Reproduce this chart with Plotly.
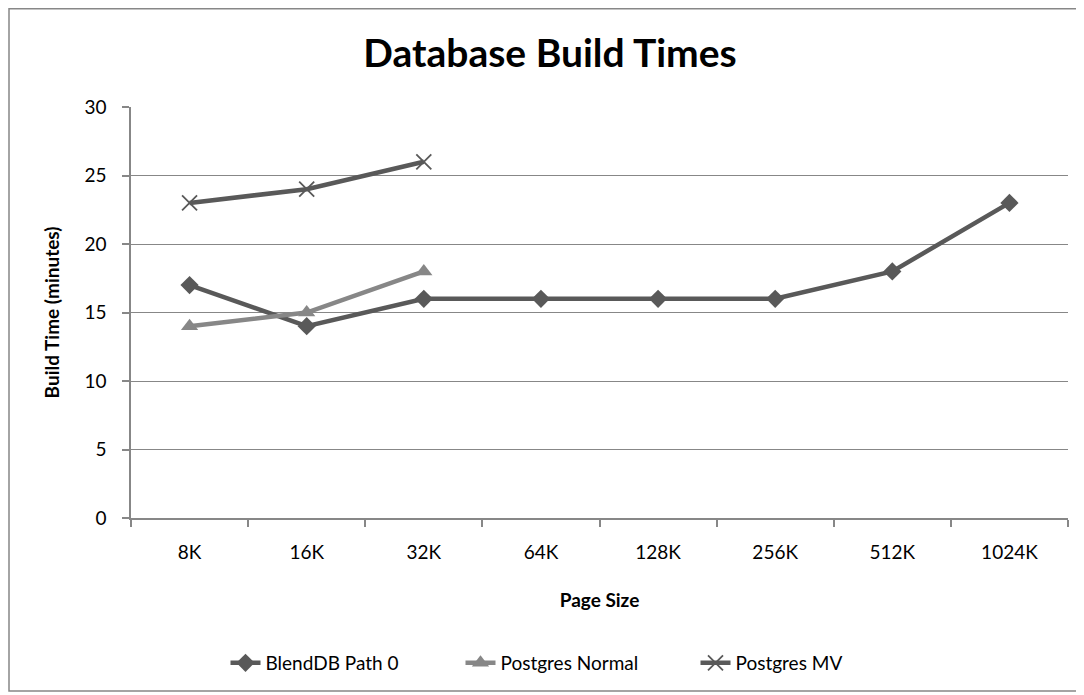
import plotly.graph_objects as go

categories = ["8K", "16K", "32K", "64K", "128K", "256K", "512K", "1024K"]
blenddb = [17, 14, 16, 16, 16, 16, 18, 23]
pg_normal = [14, 15, 18]
pg_mv = [23, 24, 26]
y_ticks = [0, 5, 10, 15, 20, 25, 30]

FONT = "Lato, 'Open Sans', sans-serif"
dark = "#595959"
light = "#878787"
grid = "#878787"

W, H = 1076, 687
L, T = 123, 99            # plot area left/top inside the figure
PR, PB = 1060, 510        # plot area right/bottom inside the figure
PW, PH = PR - L, PB - T

fig = go.Figure()
fig.add_trace(go.Scatter(x=categories, y=blenddb, name="BlendDB Path 0", mode="lines+markers",
                         line=dict(color=dark, width=4.5),
                         marker=dict(symbol="diamond", size=14, color=dark)))
fig.add_trace(go.Scatter(x=categories[:len(pg_normal)], y=pg_normal, name="Postgres Normal", mode="lines+markers",
                         line=dict(color=light, width=4.5),
                         marker=dict(symbol="triangle-up", size=15, color=light)))
fig.add_trace(go.Scatter(x=categories[:len(pg_mv)], y=pg_mv, name="Postgres MV", mode="lines+markers",
                         line=dict(color=dark, width=4.5),
                         marker=dict(symbol="x-thin-open", size=15, color=dark, line=dict(width=1.8, color=dark))))

fig.update_layout(
    width=W, height=H,
    margin=dict(l=L, r=W - PR, t=T, b=H - PB),
    paper_bgcolor="white", plot_bgcolor="white",
    font=dict(family=FONT, size=19, color="black"),
    title=dict(text="<b>Database Build Times</b>", x=542 / W, xanchor="center", y=1 - 45 / H, yanchor="middle",
               font=dict(size=39, family=FONT, color="black")),
    showlegend=True,
    legend=dict(orientation="h", x=(578 - 8 - L) / PW, xanchor="center", y=(PB - 655) / PH, yanchor="middle",
                font=dict(size=19, family=FONT), entrywidth=190, entrywidthmode="pixels", tracegroupgap=0),
    xaxis=dict(type="category", categoryorder="array", categoryarray=categories,
               showline=True, linecolor=grid, linewidth=1.5, showgrid=False,
               ticks="outside", tickson="boundaries", ticklen=7, tickcolor=grid, tickwidth=1.5,
               ticklabelstandoff=16,
               title=dict(text="<b>Page Size</b>", font=dict(size=19), standoff=32),
               range=[-0.5, 7.5], tickfont=dict(size=19)),
    yaxis=dict(range=[0, 30], tickvals=y_ticks, showline=True, linecolor=grid, linewidth=1.5,
               showgrid=True, gridcolor=grid, gridwidth=1.2, zeroline=False,
               ticks="outside", ticklen=7, tickcolor=grid, tickwidth=1.5,
               ticklabelstandoff=12,
               title=dict(text="<b>Build Time (minutes)</b>", font=dict(size=19), standoff=20),
               tickfont=dict(size=19)),
)

fig.add_shape(type="rect", xref="paper", yref="paper",
              x0=(1 - L) / PW, x1=(1071 - L) / PW,
              y0=(PB - 683) / PH, y1=(PB - 0.75) / PH,
              line=dict(color=grid, width=1.5), fillcolor="rgba(0,0,0,0)", layer="below")

fig.write_html("out.html")
